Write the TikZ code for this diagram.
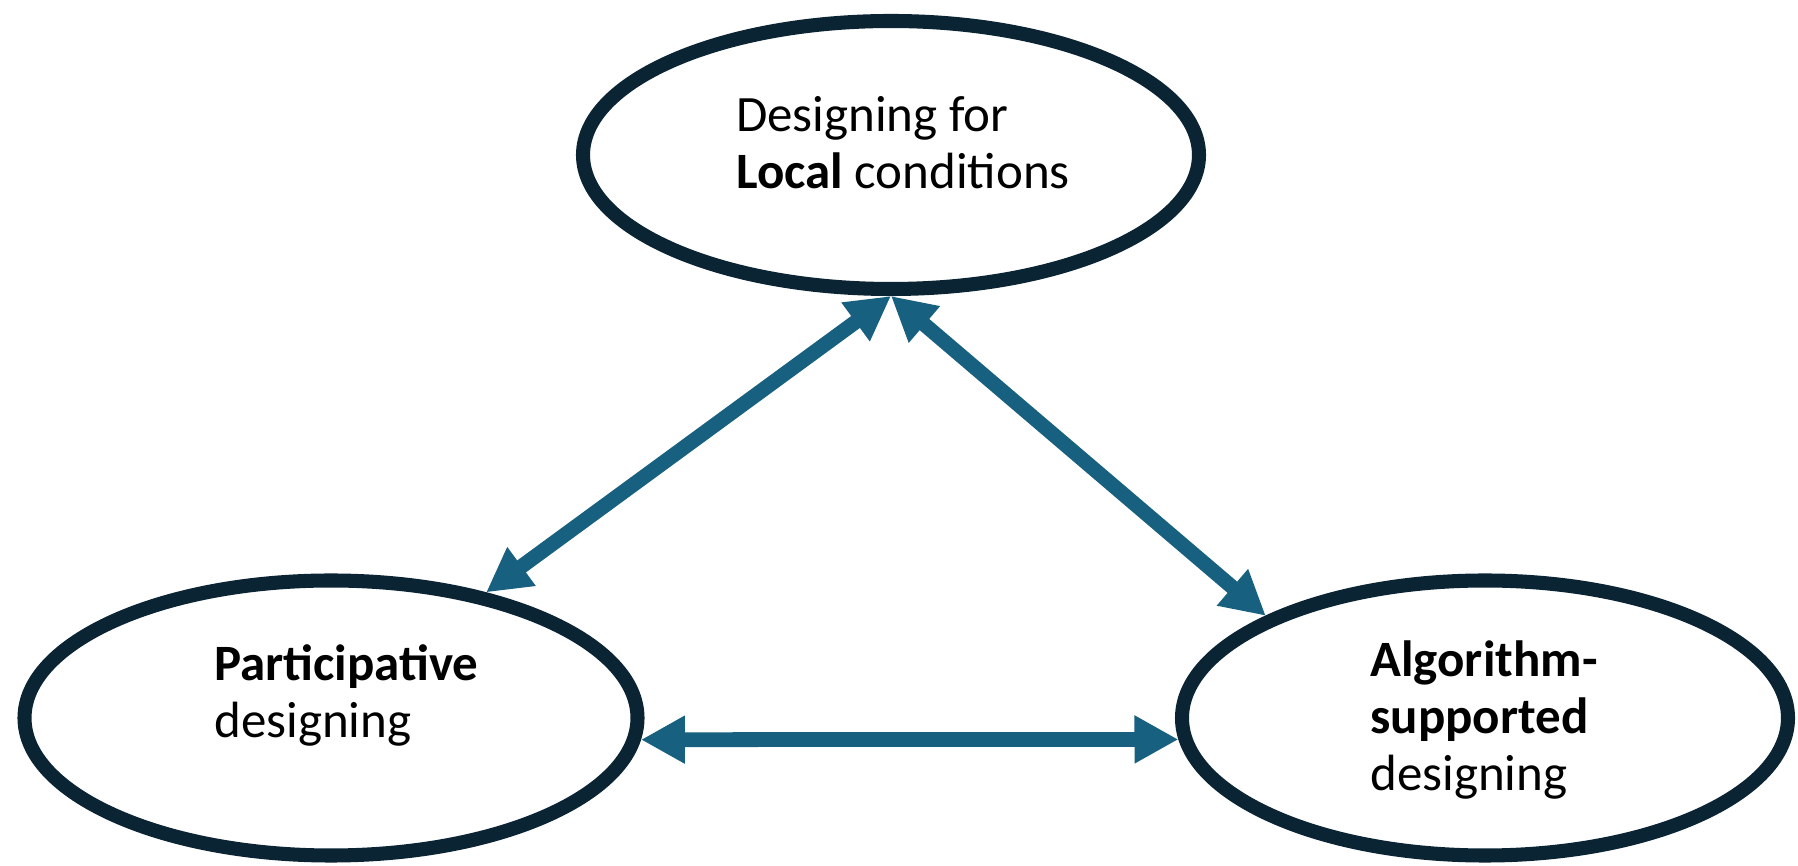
\documentclass[tikz,border=0pt]{standalone}
\usepackage{fontspec}
\setmainfont{Carlito}
\usepackage{tikz}
\usetikzlibrary{shapes.geometric,arrows.meta}

\definecolor{ringnavy}{HTML}{0A2434}
\definecolor{linkteal}{HTML}{17607F}

\tikzset{
    idea/.style={ellipse, draw=ringnavy, line width=4pt, fill=white, inner sep=0pt},
    ideatext/.style={align=left, inner sep=0pt, font=\fontsize{14.5}{16.2}\selectfont},
    link/.style={draw=linkteal, line width=4.2pt,
        {Triangle[length=12.5pt,width=12.8pt]}-{Triangle[length=12.5pt,width=12.8pt]}}
}

\begin{document}
\begin{tikzpicture}
        \useasboundingbox (0,0) rectangle (17.98,8.66);

        % ellipses
        \node[idea, minimum width=6.16cm, minimum height=2.68cm] (local) at (8.91,7.11) {};
        \node[idea, minimum width=6.13cm, minimum height=2.75cm] (part) at (3.31,1.48) {};
        \node[idea, minimum width=6.06cm, minimum height=2.75cm] (algo) at (14.85,1.48) {};

        % texts
        \node[ideatext] (localtext) at ([shift={(0.12,0.12)}]local)
            {Designing for\\\textbf{Local} conditions};
        \node[ideatext] (parttext) at ([shift={(0.155,0.23)}]part)
            {\textbf{Participative}\\designing};
        \node[ideatext] (algotext) at ([shift={(-0.01,-0.02)}]algo)
            {\textbf{Algorithm-}\\\textbf{supported}\\designing};

        % arrows
        \draw[link] (part.39) -- (local.south);
        \draw[link] (local.south) -- (algo.155);
        \draw[link] (part.-4.6) -- (algo.184.6);

    \end{tikzpicture}
\end{document}
